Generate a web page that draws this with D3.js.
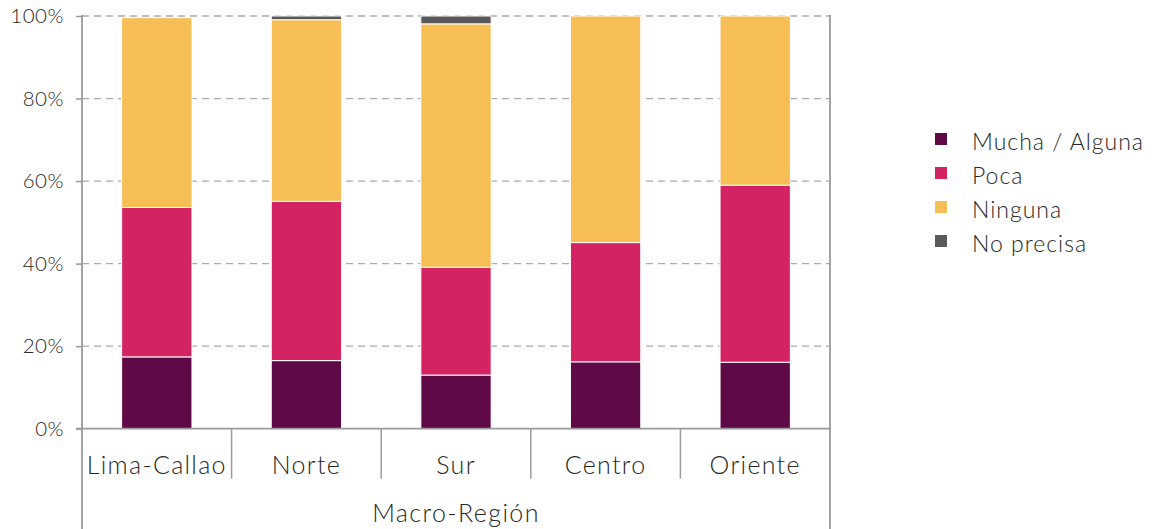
<!DOCTYPE html>
<html>
<head>
<meta charset="utf-8">
<script src="https://cdn.jsdelivr.net/npm/d3@7"></script>
<style>
  body { margin: 0; background: #fff; }
  text { font-family: Lato, "Noto Sans", sans-serif; font-weight: 300; fill: #262926; }
</style>
</head>
<body>
<div id="chart"></div>
<script>
// data (percent)
let regions = ['Lima-Callao', 'Norte', 'Sur', 'Centro', 'Oriente']
let mucha = [17.4, 16.5, 13.0, 16.2, 16.1]
let poca = [36.2, 38.6, 26.1, 28.9, 42.9]
let ninguna = [46.0, 44.0, 59.0, 54.9, 41.0]
let noPrecisa = [0, 0.9, 1.9, 0, 0]
let seriesNames = ['Mucha / Alguna', 'Poca', 'Ninguna', 'No precisa']
let seriesColors = ['#5f0a46', '#d42362', '#f7be55', '#595959']
let yTicks = [0, 20, 40, 60, 80, 100]
let axisTitle = 'Macro-Región'

let w = 1154,
    h = 529
let margin = { top: 16, right: 324, bottom: 102, left: 82 }

let svg = d3.select('#chart').append('svg')
    .attr('width', w)
    .attr('height', h)

let x = d3.scaleBand()
    .domain(regions)
    .range([margin.left, w - margin.right])
    .paddingInner(0.53)
    .paddingOuter(0.265)

let y = d3.scaleLinear()
    .domain([0, 100])
    .range([h - margin.bottom + 1.7, margin.top])

let table = regions.map(function(r, i) {
    return { region: r, 'Mucha / Alguna': mucha[i], 'Poca': poca[i], 'Ninguna': ninguna[i], 'No precisa': noPrecisa[i] }
})
let stacked = d3.stack().keys(seriesNames)(table)

let color = d3.scaleOrdinal().domain(seriesNames).range(seriesColors)

// gridlines
svg.append('g').selectAll('line')
    .data(yTicks.filter(d => d > 0))
    .enter().append('line')
    .attr('x1', margin.left)
    .attr('x2', w - margin.right)
    .attr('y1', d => y(d))
    .attr('y2', d => y(d))
    .attr('stroke', '#ababab')
    .attr('stroke-width', 1.3)
    .attr('stroke-dasharray', '7,5')

// bars
svg.append('g').selectAll('g')
    .data(stacked)
    .enter().append('g')
    .attr('fill', d => color(d.key))
    .selectAll('rect')
    .data(d => d)
    .enter().append('rect')
    .attr('x', d => x(d.data.region))
    .attr('width', x.bandwidth())
    .attr('y', d => y(d[1]))
    .attr('height', d => Math.max(0, y(d[0]) - y(d[1])))
    .attr('stroke', '#fff')
    .attr('stroke-width', d => (d[1] - d[0]) > 0 ? 1 : 0)

// y axis
let yAxis = svg.append('g')
    .attr('transform', `translate(${margin.left},0)`)
    .call(d3.axisLeft(y).tickValues(yTicks).tickFormat(d => d + '%').tickSize(6).tickPadding(12))
yAxis.select('.domain').remove()
yAxis.selectAll('line').attr('stroke', '#9a9a9a').attr('stroke-width', 1.5)
yAxis.selectAll('text')
    .attr('font-size', 20.5)
    .style('font-family', 'Lato, "Noto Sans", sans-serif')
    .style('font-weight', 300)
    .style('letter-spacing', '0.5px')
    .attr('fill', '#262926')

// frame lines: left & right verticals running down to the bottom
let axisColor = '#9a9a9a'
;[margin.left, w - margin.right].forEach(function(xx) {
    svg.append('line')
        .attr('x1', xx).attr('x2', xx)
        .attr('y1', y(100) - 1).attr('y2', h)
        .attr('stroke', axisColor).attr('stroke-width', 1.8)
})
// baseline
svg.append('line')
    .attr('x1', margin.left - 6).attr('x2', w - margin.right)
    .attr('y1', y(0)).attr('y2', y(0))
    .attr('stroke', axisColor).attr('stroke-width', 1.8)

// category separators
let step = x.step()
regions.slice(1).forEach(function(r) {
    let xx = x(r) - x.paddingInner() * step / 2
    svg.append('line')
        .attr('x1', xx).attr('x2', xx)
        .attr('y1', y(0)).attr('y2', y(0) + 50)
        .attr('stroke', axisColor).attr('stroke-width', 1.5)
})

// category labels
svg.append('g').selectAll('text')
    .data(regions)
    .enter().append('text')
    .attr('x', d => x(d) + x.bandwidth() / 2)
    .attr('y', y(0) + 45)
    .attr('text-anchor', 'middle')
    .attr('font-size', 25)
    .style('letter-spacing', '1.3px')
    .text(d => d)

svg.append('text')
    .attr('x', (margin.left + w - margin.right) / 2)
    .attr('y', h - 7)
    .attr('text-anchor', 'middle')
    .attr('font-size', 25)
    .style('letter-spacing', '1.4px')
    .text(axisTitle)

// legend
let legend = svg.append('g').attr('transform', 'translate(935,133)')
let items = legend.selectAll('g')
    .data(seriesNames)
    .enter().append('g')
    .attr('transform', (d, i) => `translate(0,${i * 34})`)
items.append('rect')
    .attr('width', 12).attr('height', 12)
    .attr('fill', d => color(d))
items.append('text')
    .attr('x', 37)
    .attr('y', 9)
    .attr('dy', '0.36em')
    .attr('font-size', 23)
    .style('letter-spacing', '1px')
    .text(d => d)
</script>
</body>
</html>
